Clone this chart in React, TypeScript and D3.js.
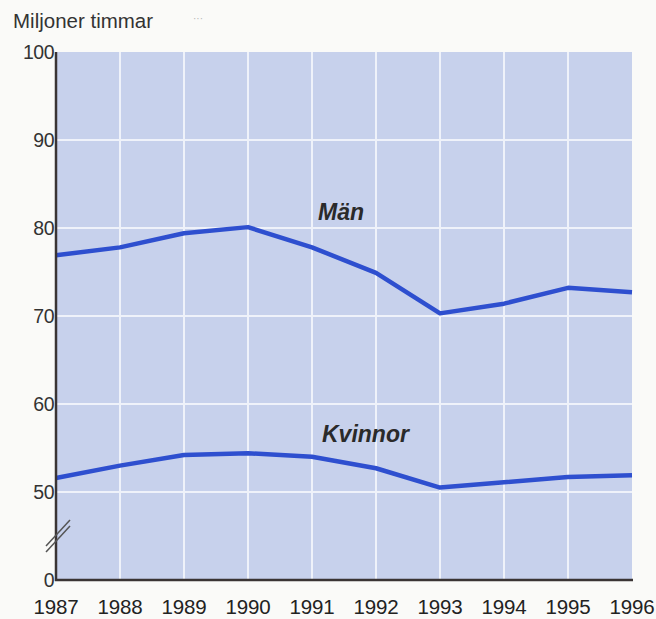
import React from 'react'
import { scaleLinear, line } from 'd3'

// years along the x axis
const years = [1987, 1988, 1989, 1990, 1991, 1992, 1993, 1994, 1995, 1996]
// millions of hours worked
const man = [76.9, 77.8, 79.4, 80.1, 77.8, 74.9, 70.3, 71.4, 73.2, 72.7]
const kvinnor = [51.6, 53.0, 54.2, 54.4, 54.0, 52.7, 50.5, 51.1, 51.7, 51.9]
// y ticks: the lowest position stands for 0 (axis is broken below 50)
const yTicks = [40, 50, 60, 70, 80, 90, 100]
const yTickLabels = ['0', '50', '60', '70', '80', '90', '100']

const W = 656
const H = 619

const App = () => {
  const x = scaleLinear().domain([1987, 1996]).range([56, 632])
  const y = scaleLinear().domain([40, 100]).range([580, 52])

  const lineGen = line<number>()
    .x((_, i) => x(years[i]))
    .y(v => y(v))

  const blue = '#2e4fcf'
  const dark = '#3a3434'

  return (
    <svg
      width={W}
      height={H}
      style={{ position: 'absolute', left: 0, top: 0, background: '#fafaf8' }}
      fontFamily="'Liberation Sans', Arial, sans-serif"
    >
      <text x={13} y={28} fontSize={20.5} fill="#333">Miljoner timmar</text>
      <text x={193} y={22} fontSize={10} fill="#b5b5b5">···</text>

      {/* plot background */}
      <rect x={x(1987)} y={y(100)} width={x(1996) - x(1987)} height={y(40) - y(100)} fill="#c7d1ec" />

      {/* grid */}
      {yTicks.filter(t => t > 40 && t < 100).map(t => (
        <line key={'h' + t} x1={x(1987)} x2={x(1996)} y1={y(t)} y2={y(t)} stroke="#eff2fa" strokeWidth={2} />
      ))}
      {years.slice(1, -1).map(yr => (
        <line key={'v' + yr} x1={x(yr)} x2={x(yr)} y1={y(100)} y2={y(40)} stroke="#eff2fa" strokeWidth={2} />
      ))}

      {/* series */}
      <path d={lineGen(man) ?? ''} fill="none" stroke={blue} strokeWidth={4.5} strokeLinejoin="round" />
      <path d={lineGen(kvinnor) ?? ''} fill="none" stroke={blue} strokeWidth={4.5} strokeLinejoin="round" />

      <text x={318} y={220} fontSize={23} fontWeight="bold" fontStyle="italic" fill="#2a2a2a">Män</text>
      <text x={322} y={442} fontSize={23} fontWeight="bold" fontStyle="italic" fill="#2a2a2a">Kvinnor</text>

      {/* axes */}
      <line x1={x(1987)} x2={x(1987)} y1={y(100)} y2={y(40) + 1} stroke={dark} strokeWidth={2.5} />
      <line x1={x(1987) - 1} x2={x(1996) + 1} y1={y(40)} y2={y(40)} stroke={dark} strokeWidth={2.5} />

      {/* axis break */}
      <line x1={46} y1={546} x2={70} y2={520} stroke="#555" strokeWidth={1.5} />
      <line x1={46} y1={552} x2={70} y2={526} stroke="#555" strokeWidth={1.5} />

      {yTicks.map((t, i) => (
        <text key={'yl' + t} x={54} y={y(t)} dy="0.35em" textAnchor="end" fontSize={19.5} fill="#333" letterSpacing={-0.5}>
          {yTickLabels[i]}
        </text>
      ))}
      {years.map(yr => (
        <text key={'xl' + yr} x={x(yr)} y={614} textAnchor="middle" fontSize={20.5} fill="#222" letterSpacing={-0.2}>
          {yr}
        </text>
      ))}
    </svg>
  )
}

export default App
